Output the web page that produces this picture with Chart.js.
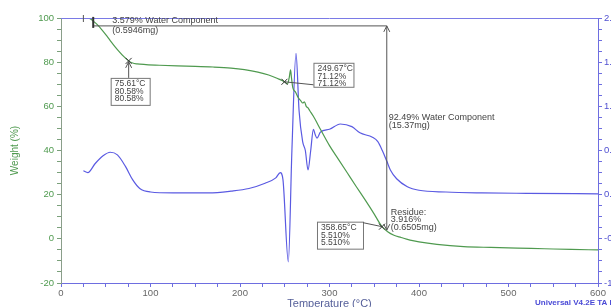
<!DOCTYPE html>
<html>
<head>
<meta charset="utf-8">
<script src="https://cdn.jsdelivr.net/npm/chart.js@4.4.0/dist/chart.umd.min.js"></script>
<style>
    html, body { margin: 0; padding: 0; overflow: hidden; background: #fff; width: 611px; height: 307px; }
    canvas { display: block; }
</style>
</head>
<body>
<canvas id="tgaChart" width="640" height="312" style="width:640px;height:312px"></canvas>
<script>
// weight (%) curve
var weightTemp = [25, 30, 33, 36, 40, 45, 50, 55, 60, 65, 70, 75.61, 80, 85, 95, 110, 130, 150, 170, 190, 205, 220, 232, 242,
    249.67, 253, 255, 256.5, 257.5, 259, 262, 265, 268, 270, 272, 274, 276, 278, 282, 290, 300, 310, 320, 330, 340, 350,
    358.65, 365, 372, 380, 390, 400, 420, 450, 480, 510, 540, 570, 600];
var weightPct = [100, 100, 99.6, 98.6, 97.2, 95, 92.5, 89.8, 87.2, 84.8, 82.6, 80.58, 79.6, 79.2, 78.9, 78.6, 78.3, 78.1, 77.8, 77.3, 76.6, 75.5, 74.2, 72.6,
    71.12, 70.2, 73, 76.5, 73, 68.5, 66.5, 64, 62.5, 61.5, 62, 60, 59.3, 58, 55.5, 49.5, 42.2, 36, 29.8, 23.6, 17.5, 11.2,
    5.51, 3.2, 1.6, 0.6, -0.6, -1.4, -2.5, -3.5, -3.9, -4.2, -4.5, -4.8, -5.0];

// derivative weight (%/°C) curve, right axis
var derivTemp = [25, 30, 38, 47, 55, 63, 72, 80, 88, 100, 125, 165, 190, 210, 228, 240, 245, 248, 254, 258, 262.6, 266, 270, 273,
    276, 279, 282, 284, 286, 290, 300, 312, 325, 334, 348, 354, 359, 364, 368, 375, 387, 400, 430, 470, 520, 600];
var derivVal = [0.27, 0.25, 0.35, 0.44, 0.48, 0.45, 0.32, 0.17, 0.07, 0.03, 0.02, 0.02, 0.04, 0.07, 0.13, 0.19, 0.25, 0.17, -0.76, 0.5, 1.6, 0.95, 0.6, 0.5,
    0.28, 0.5, 0.74, 0.68, 0.64, 0.71, 0.74, 0.80, 0.77, 0.70, 0.65, 0.60, 0.50, 0.38, 0.28, 0.18, 0.09, 0.05, 0.03, 0.02, 0.015, 0.01];

// analysis results printed on the chart
var stepLoss = ['3.579% Water Component', '(0.5946mg)'];
var mainLoss = ['92.49% Water Component', '(15.37mg)'];
var residue = ['Residue:', '3.916%', '(0.6505mg)'];
var residuePct = 3.916;
var stepStart = 36, stepEnd = 364;
var pointTemp = [75.61, 249.67, 358.65];
var pointPct = [80.58, 71.12, 5.51];
var pointLabels = [
    ['75.61°C', '80.58%', '80.58%'],
    ['249.67°C', '71.12%', '71.12%'],
    ['358.65°C', '5.510%', '5.510%'],
];

var GREEN = '#4f9a4f';
var BLUE = '#5a5ae2';
var TEXT = '#444';
var FONT = '"Liberation Sans", Arial, sans-serif';

function pairs(xs, ys) {
    return xs.map(function (x, i) { return { x: x, y: ys[i] }; });
}

var notesPlugin = {
    id: 'tgaNotes',
    afterDatasetsDraw: function (chart) {
        var ctx = chart.ctx, xs = chart.scales.x, ys = chart.scales.y, area = chart.chartArea;
        function px(t) { return xs.getPixelForValue(t); }
        function py(w) { return ys.getPixelForValue(w); }
        function lines(arr, x, y, lh) {
            arr.forEach(function (s, i) { ctx.fillText(s, x, y + i * lh); });
        }
        function arrow(x, y, dir) {
            ctx.beginPath();
            ctx.moveTo(x - 3, y + 6 * dir);
            ctx.lineTo(x, y);
            ctx.lineTo(x + 3, y + 6 * dir);
            ctx.stroke();
        }
        function cross(x, y) {
            ctx.beginPath();
            ctx.moveTo(x - 3, y - 3); ctx.lineTo(x + 3, y + 3);
            ctx.moveTo(x + 3, y - 3); ctx.lineTo(x - 3, y + 3);
            ctx.stroke();
        }

        ctx.save();
        // top frame line
        ctx.strokeStyle = '#7a7ae6';
        ctx.lineWidth = 1;
        ctx.beginPath();
        ctx.moveTo(area.left, area.top + 0.5);
        ctx.lineTo(area.right, area.top + 0.5);
        ctx.stroke();

        ctx.strokeStyle = '#555';
        ctx.fillStyle = TEXT;
        ctx.textBaseline = 'middle';
        ctx.font = '9px ' + FONT;

        // step lines
        var y0 = py(100 - 3.579), y1 = py(residuePct), vx = px(stepEnd);
        ctx.beginPath();
        ctx.moveTo(px(stepStart), y0); ctx.lineTo(vx, y0);
        ctx.moveTo(vx, y0); ctx.lineTo(vx, y1);
        ctx.stroke();
        arrow(vx, y0, 1);
        arrow(vx, y1, -1);
        ctx.beginPath();
        ctx.moveTo(px(25), py(100) - 3); ctx.lineTo(px(25), py(100) + 4);
        ctx.stroke();
        ctx.lineWidth = 2;
        ctx.strokeStyle = '#333';
        ctx.beginPath();
        ctx.moveTo(px(stepStart), y0 - 9); ctx.lineTo(px(stepStart), y0 + 2);
        ctx.stroke();
        ctx.lineWidth = 1;
        ctx.strokeStyle = '#555';

        lines(stepLoss, px(stepStart) + 19, y0 - 5, 10);
        lines(mainLoss, vx + 2, (y0 + y1) / 2 - 11, 8);
        lines(residue, vx + 4, y1 - 18, 7.5);

        // labelled points
        ctx.font = '8.5px ' + FONT;
        var offs = [[-18, 17, 39, 27], [29, -19, 40, 24], [-65, -5, 46, 27]];
        pointTemp.forEach(function (t, i) {
            var x = px(t), y = py(pointPct[i]);
            var o = offs[i];
            var bx = x + o[0], by = y + o[1];
            ctx.strokeStyle = '#777';
            ctx.fillStyle = '#fff';
            ctx.fillRect(bx, by, o[2], o[3]);
            ctx.strokeRect(bx + 0.5, by + 0.5, o[2], o[3]);
            ctx.fillStyle = TEXT;
            lines(pointLabels[i], bx + 4, by + 6, 7.5);
            ctx.strokeStyle = '#555';
            ctx.beginPath();
            if (i === 0) {
                ctx.moveTo(x, by); ctx.lineTo(x, y + 1);
                ctx.stroke();
                arrow(x, y + 1, 1);
            } else if (i === 1) {
                ctx.moveTo(x, y); ctx.lineTo(bx, by + 22);
                ctx.stroke();
            } else {
                ctx.moveTo(bx + o[2], by + 1); ctx.lineTo(x, y);
                ctx.stroke();
            }
            ctx.strokeStyle = '#333';
            cross(x, y);
        });

        ctx.font = 'bold 8px ' + FONT;
        ctx.fillStyle = '#4a4ad6';
        ctx.fillText('Universal V4.2E TA Instruments', 535, 303);
        ctx.restore();
    }
};

new Chart(document.getElementById('tgaChart'), {
    type: 'line',
    data: {
        datasets: [
            {
                label: 'Weight',
                data: pairs(weightTemp, weightPct),
                yAxisID: 'y',
                borderColor: GREEN,
                borderWidth: 1.2,
                pointRadius: 0,
                cubicInterpolationMode: 'monotone',
            },
            {
                label: 'Deriv. Weight',
                data: pairs(derivTemp, derivVal),
                yAxisID: 'y1',
                borderColor: BLUE,
                borderWidth: 1.2,
                pointRadius: 0,
                cubicInterpolationMode: 'monotone',
            },
        ],
    },
    options: {
        responsive: false,
        animation: false,
        layout: { padding: { top: 18, left: 0, right: 0, bottom: 0 } },
        plugins: { legend: { display: false }, tooltip: { enabled: false } },
        scales: {
            x: {
                type: 'linear',
                min: 0, max: 600,
                afterFit: function (s) { s.height = 29; },
                border: { color: '#6e6ee0' },
                grid: { drawOnChartArea: false, tickLength: 4, color: '#6e6ee0' },
                ticks: {
                    stepSize: 25, autoSkip: false, maxRotation: 0, padding: 1,
                    color: '#666', font: { family: FONT, size: 9.5 },
                    callback: function (v) { return v % 100 === 0 ? v : ''; },
                },
                title: {
                    display: true, text: 'Temperature (°C)', color: '#56609a',
                    font: { family: FONT, size: 11 }, padding: { top: 0, bottom: 1 },
                },
            },
            y: {
                position: 'left',
                min: -20, max: 100,
                afterFit: function (s) { s.width = 61; },
                border: { color: '#8a9e8a' },
                grid: { drawOnChartArea: false, tickLength: 4, color: '#7aa07a' },
                ticks: {
                    stepSize: 5, autoSkip: false, padding: 3,
                    color: GREEN, font: { family: FONT, size: 9.5 },
                    callback: function (v) { return v % 20 === 0 ? v : ''; },
                },
                title: {
                    display: true, text: 'Weight (%)', color: GREEN,
                    font: { family: FONT, size: 10 }, padding: { top: 9, bottom: 0 },
                },
            },
            y1: {
                position: 'right',
                min: -1, max: 2,
                afterFit: function (s) { s.width = 42; },
                border: { color: '#6e6ee0' },
                grid: { drawOnChartArea: false, tickLength: 4, color: '#6e6ee0' },
                ticks: {
                    stepSize: 0.125, autoSkip: false, padding: 2,
                    color: '#5050d0', font: { family: FONT, size: 9.5 },
                    callback: function (v) { return v % 0.5 === 0 ? v.toFixed(1) : ''; },
                },
            },
        },
    },
    plugins: [notesPlugin],
});
</script>
</body>
</html>
